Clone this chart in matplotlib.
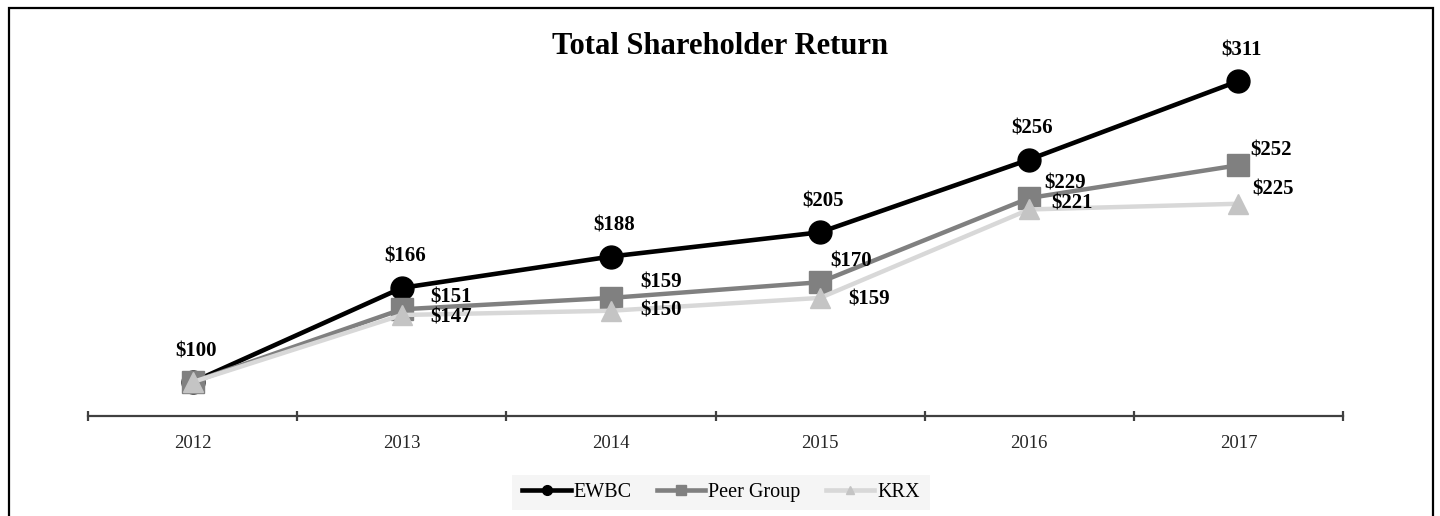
import matplotlib
matplotlib.use("Agg")
import matplotlib.pyplot as plt
from matplotlib.lines import Line2D
from matplotlib.patches import Rectangle

# ---- data ----
years = ["2012", "2013", "2014", "2015", "2016", "2017"]
ewbc = [100, 166, 188, 205, 256, 311]
peer = [100, 151, 159, 170, 229, 252]
krx = [100, 147, 150, 159, 221, 225]
series_names = ["EWBC", "Peer Group", "KRX"]

plt.rcParams['font.family'] = ['Liberation Serif', 'DejaVu Serif']

W, H = 1440, 516
fig = plt.figure(figsize=(W / 100, H / 100), dpi=100)

# axes placement (pixels -> figure fraction)
left_px, right_px, top_px, bottom_px = 88, 1343, 30, 416
ax = fig.add_axes([left_px / W, 1 - bottom_px / H,
                   (right_px - left_px) / W, (bottom_px - top_px) / H])
ax.set_xlim(-0.5, len(years) - 0.5)
ax.set_ylim(76.2, 346.8)

x = list(range(len(years)))

ax.plot(x, ewbc, color='black', lw=3.3, marker='o', markersize=16.5,
        markerfacecolor='black', markeredgecolor='black', zorder=3)
ax.plot(x, peer, color='#808080', lw=3.2, marker='s', markersize=15.5,
        markerfacecolor='#808080', markeredgecolor='#808080', zorder=4)
ax.plot(x, krx, color='#d8d8d8', lw=3.2, marker='^', markersize=15,
        markerfacecolor='#c4c4c4', markeredgecolor='#c4c4c4', zorder=5)

lab_kw = dict(fontsize=15, fontweight='bold', color='black',
              textcoords='offset pixels', zorder=6)
# EWBC labels: centered above
for xi, v in zip(x, ewbc):
    ax.annotate(f"${v}", (xi, v), xytext=(3, 31), ha='center', va='center', **lab_kw)
# Peer labels: right / above
peer_off = [None, (29, 12), (29, 15), (10, 21), (15, 15), (12, 15)]
for xi, v, off in zip(x, peer, peer_off):
    if off is None:
        continue
    ax.annotate(f"${v}", (xi, v), xytext=off, ha='left', va='center', **lab_kw)
# KRX labels: right
krx_off = [None, (29, -2), (29, 0), (28, -2), (22, 6), (14, 14)]
for xi, v, off in zip(x, krx, krx_off):
    if off is None:
        continue
    ax.annotate(f"${v}", (xi, v), xytext=off, ha='left', va='center', **lab_kw)

# axis styling
for s in ['top', 'right', 'left']:
    ax.spines[s].set_visible(False)
ax.spines['bottom'].set_color('#404040')
ax.spines['bottom'].set_linewidth(1.6)
ax.set_yticks([])
ax.set_xticks([i - 0.5 for i in range(len(years) + 1)])
ax.set_xticklabels([])
ax.tick_params(axis='x', which='major', direction='inout', length=7.5,
               width=1.6, color='#404040')
ax.set_xticks(x, minor=True)
ax.set_xticklabels(years, minor=True)
ax.tick_params(axis='x', which='minor', length=0, pad=14, labelsize=13.5,
               labelcolor='#262626')
ax.patch.set_alpha(0)

# title
fig.text(720 / W, 1 - 47 / H, "Total Shareholder Return", ha='center', va='center',
         fontsize=22, fontweight='bold', color='black')

# legend background
fig.patches.append(Rectangle((512 / W, 1 - 510 / H), (930 - 512) / W, 35 / H,
                             transform=fig.transFigure, facecolor='#f5f5f5',
                             edgecolor='none', zorder=0))
handles = [
    Line2D([], [], color='black', lw=3.3, marker='o', markersize=7),
    Line2D([], [], color='#808080', lw=3.3, marker='s', markersize=7),
    Line2D([], [], color='#d8d8d8', lw=3.3, marker='^', markersize=6,
           markerfacecolor='#c4c4c4', markeredgecolor='#c4c4c4'),
]
fig.legend(handles, series_names, loc='center', bbox_to_anchor=(721 / W, 1 - 492 / H),
           ncol=3, frameon=False, fontsize=14.5, handlelength=2.4,
           handletextpad=0.15, columnspacing=1.25, borderpad=0.2)

# outer frame
fig.patches.append(Rectangle((9 / W, -0.05), (1433 - 9) / W, 1.05 - 8 / H,
                             transform=fig.transFigure, facecolor='none',
                             edgecolor='black', lw=1.6, zorder=10))

fig.savefig("out.png", dpi=100)
